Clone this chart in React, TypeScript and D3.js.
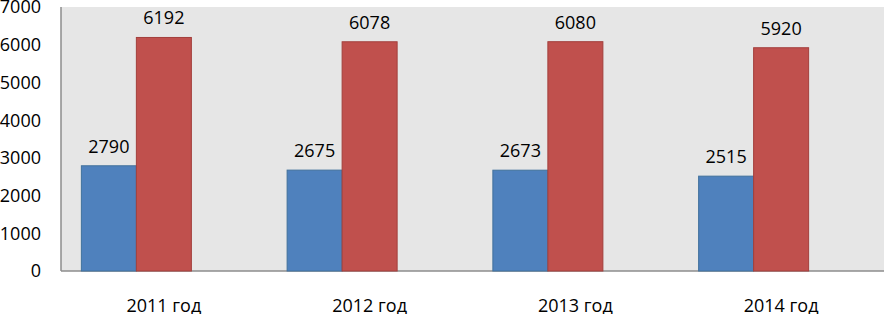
import React from "react";
import * as d3 from "d3";

const categories = ["2011 год", "2012 год", "2013 год", "2014 год"];
const seriesA = [2790, 2675, 2673, 2515];
const seriesB = [6192, 6078, 6080, 5920];
const seriesKeys = ["a", "b", "c"];
const yTicks = [0, 1000, 2000, 3000, 4000, 5000, 6000, 7000];

const W = 886;
const H = 314;
const left = 61;
const right = 884;
const top = 7;
const bottom = 271;
const FONT = "'Open Sans', 'Liberation Sans', sans-serif";

export default function App() {
  const x = d3.scaleBand<string>().domain(categories).range([left, right]).paddingInner(0).paddingOuter(0);
  const y = d3.scaleLinear().domain([0, 7000]).range([bottom, top]);
  const bw = x.bandwidth();
  const groupW = bw * 0.802;
  const sub = d3
    .scaleBand<string>()
    .domain(seriesKeys)
    .range([(bw - groupW) / 2, (bw + groupW) / 2]);
  const series = [
    { key: "a", values: seriesA, fill: "#4F81BD", stroke: "#41719C" },
    { key: "b", values: seriesB, fill: "#C0504D", stroke: "#A33F3C" },
  ];
  return (
    <svg
      width={W}
      height={H}
      style={{ position: "absolute", left: 0, top: 0, background: "#fff" }}
      fontFamily={FONT}
    >
      <rect x={left} y={top} width={right - left} height={bottom - top} fill="#E6E6E6" />
      <line x1={left} x2={left} y1={top} y2={bottom} stroke="#8C8C8C" strokeWidth={1.5} />
      <line x1={left} x2={right} y1={bottom} y2={bottom} stroke="#8C8C8C" strokeWidth={1.5} />
      {yTicks.map((t) => (
        <text key={t} x={41} y={y(t)} dy="0.36em" textAnchor="end" fontSize={18} fill="#000">
          {t}
        </text>
      ))}
      {categories.map((c) => (
        <text key={c} x={(x(c) as number) + bw / 2} y={312} textAnchor="middle" fontSize={18} fill="#000">
          {c}
        </text>
      ))}
      {series.map((s) =>
        s.values.map((v, i) => {
          const bx = (x(categories[i]) as number) + (sub(s.key) as number);
          const sw = sub.bandwidth();
          return (
            <g key={s.key + i}>
              <rect
                x={bx}
                y={y(v)}
                width={sw}
                height={bottom - y(v)}
                fill={s.fill}
                stroke={s.stroke}
                strokeWidth={1}
              />
              <text x={bx + sw / 2} y={y(v) - 13} textAnchor="middle" fontSize={18} fill="#000">
                {v}
              </text>
            </g>
          );
        })
      )}
    </svg>
  );
}
